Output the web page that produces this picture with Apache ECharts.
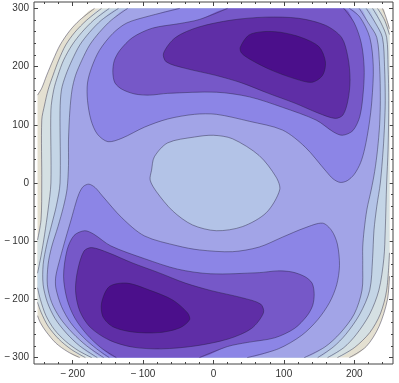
<!DOCTYPE html>
<html>
<head>
    <meta charset="UTF-8"/>
    <title>Contour plot</title>
    <style>
        html, body { margin: 0; padding: 0; background: #fff; }
        #chart { width: 399px; height: 383px; }
    </style>
</head>
<body>
<div id="chart"></div>
<script src="https://cdn.jsdelivr.net/npm/echarts@6/dist/echarts.min.js"></script>
<script>
    // tick values
    const xMajor = [-200, -100, 0, 100, 200];
    const yMajor = [-300, -200, -100, 0, 100, 200, 300];

    // contour outlines, [x, y] in data units, each closed
    const outer9 = [[-169, 300], [240, 300], [245, 285], [250, 265], [250, -160], [247, -201], [235, -247], [217, -281], [193, -300],
        [-190, -300], [-207, -290], [-224, -275], [-238, -255], [-246, -240], [-250, -228], [-250, 151], [-244, 163], [-237, 185],
        [-228, 211], [-218, 237], [-204, 262], [-190, 280]];
    const outer8 = [[-159, 300], [233, 300], [243, 280], [250, 255], [250, -120], [246, -184], [237, -225], [222, -257], [200, -283],
        [176, -300], [-182, -300], [-202, -286], [-220, -268], [-235, -246], [-245, -222], [-250, -205], [-250, -98], [-245, -63],
        [-244, 0], [-244, 108], [-240, 134], [-235, 160], [-228, 185], [-220, 211], [-210, 237], [-197, 259], [-180, 280]];
    const outer7 = [[-148, 300], [226, 300], [238, 275], [246, 250], [248, 200], [249, 142], [248, 57], [246, 0], [244, -81],
        [242, -130], [235, -184], [222, -225], [203, -260], [185, -283], [162, -300], [-173, -300], [-192, -288], [-210, -272],
        [-226, -252], [-238, -228], [-246, -200], [-250, -180], [-250, -155], [-245, -125], [-240, -89], [-235, -46], [-231, 0],
        [-231, 125], [-227, 160], [-221, 185], [-213, 211], [-201, 237], [-187, 259], [-170, 280]];
    const outer6 = [[-135, 300], [217, 300], [230, 275], [240, 250], [243, 200], [244, 142], [243, 100], [241, 57], [237, 0],
        [232, -40], [228, -81], [226, -130], [222, -184], [208, -225], [188, -260], [170, -282], [148, -300], [-165, -300],
        [-190, -280], [-209, -258], [-225, -233], [-236, -205], [-242, -175], [-242, -140], [-237, -106], [-230, -72], [-223, -38],
        [-218, 0], [-218, 125], [-216, 160], [-210, 185], [-201, 211], [-190, 237], [-176, 259], [-159, 280]];
    const outer5 = [[-122, 300], [207, 300], [220, 275], [232, 250], [236, 200], [237, 142], [236, 100], [233, 57], [229, 20],
        [224, -12], [218, -45], [214, -81], [212, -110], [212, -140], [211, -184], [200, -225], [180, -258], [158, -282], [129, -300],
        [-156, -300], [-180, -280], [-200, -258], [-218, -232], [-230, -205], [-236, -175], [-235, -140], [-230, -110], [-221, -75],
        [-213, -40], [-208, -10], [-206, 30], [-206, 74], [-204, 125], [-201, 160], [-196, 185], [-187, 211], [-176, 237], [-162, 259],
        [-145, 280]];
    const centre = [[-88, 22], [-84, 45], [-65, 69], [-27, 79], [0, 82], [27, 76], [65, 47], [89, 10], [94, -12], [75, -51],
        [41, -75], [4, -82], [-30, -72], [-58, -48], [-81, -15], [-90, 5]];
    const upper4 = [[-48, 300], [-91, 287], [-123, 275], [-143, 257], [-162, 228], [-173, 199], [-179, 172], [-179, 142], [-174, 108],
        [-165, 84], [-150, 71], [-130, 77], [-98, 96], [-65, 110], [-27, 118], [4, 118], [51, 106], [98, 91], [130, 62], [160, 20],
        [170, 7], [180, 1], [190, 4], [200, 15], [209, 35], [215, 60], [221, 100], [225, 142], [227, 200], [222, 250], [208, 285],
        [193, 300]];
    const lower4 = [[48, -300], [92, -285], [125, -262], [148, -235], [165, -205], [175, -175], [179, -142], [176, -105], [168, -82],
        [155, -69], [130, -77], [98, -93], [65, -110], [27, -118], [-20, -115], [-51, -108], [-98, -91], [-130, -60], [-158, -22],
        [-168, -8], [-177, -2], [-185, -6], [-191, -18], [-196, -36], [-202, -62], [-210, -95], [-218, -130], [-224, -160],
        [-224, -180], [-216, -212], [-203, -240], [-185, -265], [-166, -285], [-148, -300]];
    const upper3 = [[20, 300], [-20, 281], [-48, 274], [-87, 266], [-115, 250], [-133, 228], [-141, 210], [-143, 190], [-140, 172],
        [-130, 161], [-112, 153], [-91, 151], [-65, 154], [4, 156], [51, 148], [98, 130], [146, 108], [170, 88], [183, 82], [198, 90],
        [208, 115], [213, 160], [214, 199], [210, 240], [200, 275], [185, 300]];
    const lower3 = [[-20, -300], [20, -281], [48, -274], [87, -266], [115, -250], [133, -228], [141, -210], [143, -190], [140, -172],
        [130, -161], [112, -153], [91, -151], [65, -154], [-4, -156], [-51, -148], [-98, -130], [-146, -108], [-170, -88], [-183, -82],
        [-198, -90], [-208, -115], [-213, -160], [-208, -200], [-197, -232], [-180, -260], [-160, -283], [-138, -300]];
    const upper2 = [[-71, 223], [-54, 250], [-21, 268], [26, 280], [74, 285], [121, 283], [159, 271], [182, 250], [191, 216],
        [194, 177], [191, 142], [184, 117], [173, 111], [149, 120], [116, 137], [78, 154], [40, 172], [3, 185], [-40, 197], [-67, 208]];
    const lower2 = [[71, -223], [54, -250], [21, -268], [-26, -280], [-74, -285], [-115, -282], [-148, -270], [-175, -248],
        [-190, -220], [-196, -185], [-193, -150], [-184, -117], [-173, -111], [-149, -120], [-116, -137], [-78, -154], [-40, -172],
        [-3, -185], [40, -197], [67, -208]];
    const upper1 = [[38, 233], [50, 254], [70, 260], [95, 259], [125, 250], [150, 234], [159, 208], [155, 185], [140, 173],
        [116, 179], [82, 194], [54, 211], [40, 223]];
    const lower1 = [[-159, -206], [-148, -178], [-123, -172], [-91, -184], [-58, -201], [-37, -223], [-34, -235], [-48, -249],
        [-77, -257], [-115, -256], [-143, -247], [-157, -230]];

    // band colours, darkest (lowest) first
    const bandColors = ['#4b0f8b', '#5f2ea6', '#7658c8', '#8c85e6', '#a2a4e7', '#b3c3e7', '#c4d5e6', '#d5e0e3', '#e4e0d1'];

    // painter order: outer shapes first
    const layers = [
        {pts: outer9, band: 8}, {pts: outer8, band: 7}, {pts: outer7, band: 6}, {pts: outer6, band: 5},
        {pts: outer5, band: 4}, {pts: centre, band: 5},
        {pts: upper4, band: 3}, {pts: lower4, band: 3},
        {pts: upper3, band: 2}, {pts: lower3, band: 2},
        {pts: upper2, band: 1}, {pts: lower2, band: 1},
        {pts: upper1, band: 0}, {pts: lower1, band: 0}
    ];

    const XLIM = 250, YLIM = 300;

    function steps(from, to, step) {
        const out = [];
        for (let v = from; v <= to; v += step) out.push(v);
        return out;
    }
    const xMinor = steps(-240, 240, 20);
    const yMinor = steps(-300, 300, 20);

    function fmt(v) {
        return v < 0 ? '\u2212\u2009' + (-v) : String(v);
    }

    // segment lies on the plot-range border -> no contour line there
    function onBorder(p, q) {
        return (Math.abs(p[0]) >= XLIM && p[0] === q[0]) || (Math.abs(p[1]) >= YLIM && p[1] === q[1]);
    }

    const lineStyle = {stroke: 'rgba(35,30,60,0.55)', lineWidth: 0.8, fill: null};
    const SMOOTH = 0.3;

    function renderItem(params, api) {
        const layer = layers[params.dataIndex];
        const raw = layer.pts;
        const pts = raw.map(p => api.coord(p));
        const a = api.coord([-XLIM, YLIM]), b = api.coord([XLIM, -YLIM]);
        const box = [[a[0], a[1]], [b[0], b[1]]];
        const n = raw.length;
        const children = [];
        let start = -1;
        for (let i = 0; i < n; i++) {
            if (onBorder(raw[i], raw[(i + 1) % n])) { start = (i + 1) % n; break; }
        }
        if (start < 0) {
            children.push({
                type: 'polygon', shape: {points: pts, smooth: SMOOTH, smoothConstraint: box},
                style: {fill: bandColors[layer.band], stroke: lineStyle.stroke, lineWidth: lineStyle.lineWidth}
            });
        } else {
            children.push({
                type: 'polygon', shape: {points: pts, smooth: SMOOTH, smoothConstraint: box},
                style: {fill: bandColors[layer.band]}
            });
            let run = [pts[start]];
            for (let k = 0; k < n; k++) {
                const i = (start + k) % n, j = (i + 1) % n;
                if (onBorder(raw[i], raw[j])) {
                    if (run.length > 1) children.push({type: 'polyline', shape: {points: run, smooth: SMOOTH, smoothConstraint: box}, style: lineStyle});
                    run = [pts[j]];
                } else {
                    run.push(pts[j]);
                }
            }
            if (run.length > 1) children.push({type: 'polyline', shape: {points: run, smooth: SMOOTH, smoothConstraint: box}, style: lineStyle});
        }
        return {type: 'group', children: children};
    }

    function tickAxis(dir, position, values, len, labels) {
        const ax = {
            type: 'value', position: position,
            min: dir === 'x' ? -255 : -311, max: dir === 'x' ? 255 : 311,
            axisLine: {show: false, onZero: false},
            axisTick: {show: true, inside: true, length: len, customValues: values, lineStyle: {color: '#444', width: 1}},
            axisLabel: {show: false},
            splitLine: {show: false}
        };
        if (labels) {
            ax.axisLabel = {
                show: true, customValues: labels, formatter: fmt, color: '#333',
                fontFamily: 'Liberation Sans', fontSize: 10, margin: 5,
                showMinLabel: true, showMaxLabel: true
            };
        }
        return ax;
    }

    const chart = echarts.init(document.getElementById('chart'), null, {renderer: 'canvas'});
    chart.setOption({
        animation: false,
        grid: {left: 34, right: 6, top: 2, bottom: 19, show: true, borderColor: '#444', borderWidth: 1,
            containLabel: false, outerBoundsMode: 'none'},
        xAxis: [
            tickAxis('x', 'bottom', xMajor, 4, xMajor),
            tickAxis('x', 'bottom', xMinor, 2),
            tickAxis('x', 'top', xMajor, 4),
            tickAxis('x', 'top', xMinor, 2)
        ],
        yAxis: [
            tickAxis('y', 'left', yMajor, 4, yMajor),
            tickAxis('y', 'left', yMinor, 2),
            tickAxis('y', 'right', yMajor, 4),
            tickAxis('y', 'right', yMinor, 2)
        ],
        series: [{
            type: 'custom',
            coordinateSystem: 'cartesian2d',
            xAxisIndex: 0, yAxisIndex: 0,
            silent: true,
            data: layers.map((l, i) => [i, 0]),
            renderItem: renderItem
        }]
    });
</script>
</body>
</html>
